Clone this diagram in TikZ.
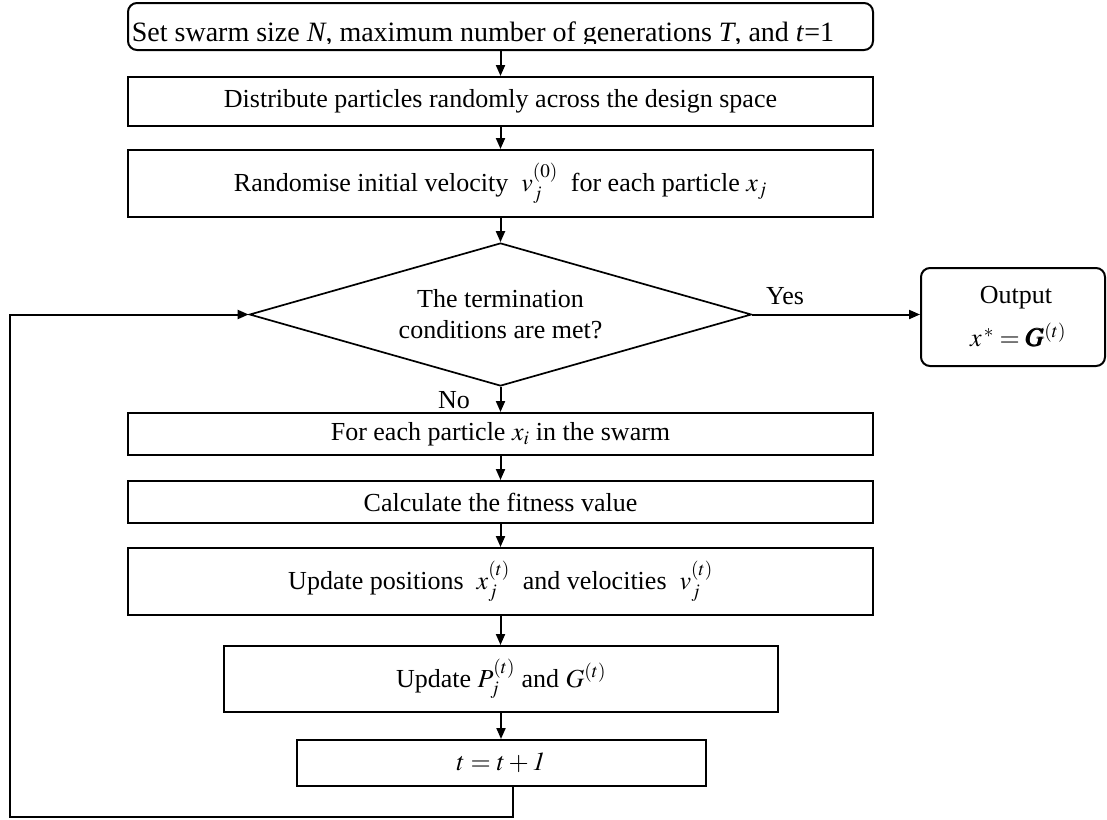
\documentclass[tikz,border=0pt]{standalone}
\usepackage{amsmath}
\usepackage{mathptmx}
\usepackage{fontspec}
\setmainfont{Liberation Serif}
\usetikzlibrary{arrows.meta,shapes.geometric}
\begin{document}
\begin{tikzpicture}[x=1pt,y=-1pt,
  line width=2pt,
  font=\fontsize{26}{31}\selectfont,
  proc/.style={draw, rectangle, inner sep=0pt, align=center},
  rproc/.style={proc, rounded corners=9pt},
  cond/.style={draw, diamond, line width=1.7pt, inner sep=0pt, align=center},
  flow/.style={-{Triangle[length=11pt,width=9pt]}},
  lbl/.style={inner sep=0pt}]
\useasboundingbox (0,0) rectangle (1107,819);

% initialisation
\node[rproc, minimum width=745pt, minimum height=47pt] (init) at (500.5,26.5) {};
\begin{scope}
  \clip (129,4) rectangle (872,43);
  \node[lbl, anchor=base, font=\fontsize{28}{32}\selectfont] (initt) at (483,41)
    {Set swarm size \textit{N}, maximum number of generations \textit{T}, and \textit{t}=1};
\end{scope}
\node[proc, minimum width=745pt, minimum height=49pt] (dist) at (500.5,101.5)
  {Distribute particles randomly across the design space};
\node[proc, minimum width=745pt, minimum height=67pt] (vel) at (500.5,183.5)
  {Randomise initial velocity \ $v_j^{(0)}$\ \ for each particle $x_j$};

% termination test
\node[cond, minimum width=502pt, minimum height=143pt] (test) at (500.5,314.5) {};
\node[lbl, align=center] (testt) at (500.5,314) {The termination\\conditions are met?};
\node[rproc, minimum width=184pt, minimum height=98pt] (out) at (1013,317)
  {};
\node[lbl] (outl) at (1016,298) {Output};
\node[lbl] (outf) at (1018,335) {$x^{\,*}=\pmb{G}^{(t)}$};
\node[lbl] (yes) at (785,296) {Yes};
\node[lbl] (no) at (454,400) {No};

% loop body
\node[proc, minimum width=745pt, minimum height=42pt] (each) at (500.5,434)
  {For each particle $x_i$ in the swarm};
\node[proc, minimum width=745pt, minimum height=42pt] (fit) at (500.5,502)
  {Calculate the fitness value};
\node[proc, minimum width=745pt, minimum height=67pt] (upd) at (500.5,581.5)
  {Update positions \ $x_j^{(t)}$\ \ and velocities \ $v_j^{(t)}$};
\node[proc, minimum width=554pt, minimum height=66pt] (best) at (501,679)
  {Update $P_j^{(t)}$ and $G^{(t)}$};
\node[proc, minimum width=409pt, minimum height=46pt] (inc) at (501,763)
  {$t=t+\mathit{1}$};

% connectors
\draw[flow] (init) -- (dist);
\draw[flow] (dist) -- (vel);
\draw[flow] (vel) -- (test.north);
\draw[flow] (test.east) -- (test.east -| out.west);
\draw[flow] (test.south) -- (each);
\draw[flow] (each) -- (fit);
\draw[flow] (fit) -- (upd);
\draw[flow] (upd) -- (upd.south |- best.north);
\draw[flow] (best) -- (inc);

% return to the termination test
\coordinate (lpb) at (513,817);
\coordinate (lpl) at (10,817);
\draw[flow] (inc.south -| lpb) -- (lpb) -- (lpl) |- (test.west);
\end{tikzpicture}
\end{document}
